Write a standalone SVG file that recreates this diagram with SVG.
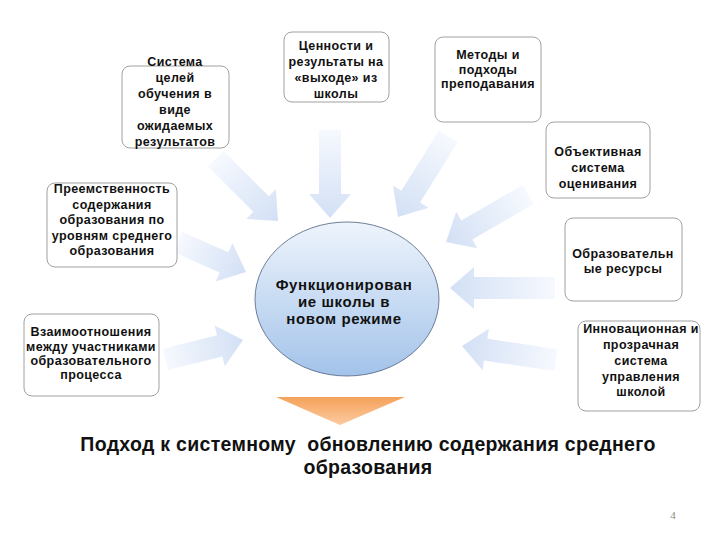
<svg xmlns="http://www.w3.org/2000/svg" width="720" height="540" viewBox="0 0 720 540">
<style>
.box{fill:#ffffff;stroke:#a0a0a0;stroke-width:1}
.bt{font-family:"Liberation Sans",Arial,sans-serif;font-weight:bold;font-size:12.5px;letter-spacing:0.4px;fill:#111;text-anchor:middle}
.ct{font-family:"Liberation Sans",Arial,sans-serif;font-weight:bold;font-size:15px;letter-spacing:0.6px;fill:#111;text-anchor:middle}
.title{font-family:"Liberation Sans",Arial,sans-serif;font-weight:bold;font-size:19.5px;letter-spacing:0.3px;fill:#111;text-anchor:middle;white-space:pre}
.arr{fill:url(#ag);stroke:none}
</style>
<defs>
<linearGradient id="ag" x1="0" y1="0" x2="1" y2="0">
<stop offset="0" stop-color="#f6f9fe"/>
<stop offset="1" stop-color="#d3e0f5"/>
</linearGradient>
<linearGradient id="eg" x1="0" y1="0" x2="0" y2="1">
<stop offset="0" stop-color="#eef4fc"/>
<stop offset="1" stop-color="#a3c3ea"/>
</linearGradient>
<linearGradient id="tg" x1="0" y1="0" x2="0" y2="1">
<stop offset="0" stop-color="#f5a25a"/>
<stop offset="1" stop-color="#fccaa0"/>
</linearGradient>
</defs>
<rect width="720" height="540" fill="#ffffff"/>

<g id="connectors">
<path class="arr" transform="translate(278,221) rotate(45)" d="M0,0 L-24,-21 L-24,-11 L-88,-11 L-88,11 L-24,11 L-24,21 Z"/>
<path class="arr" transform="translate(330,218) rotate(90)" d="M0,0 L-24,-21 L-24,-11 L-88,-11 L-88,11 L-24,11 L-24,21 Z"/>
<path class="arr" transform="translate(398,217) rotate(122)" d="M0,0 L-24,-21 L-24,-11 L-95,-11 L-95,11 L-24,11 L-24,21 Z"/>
<path class="arr" transform="translate(446,242) rotate(150)" d="M0,0 L-24,-21 L-24,-11 L-95,-11 L-95,11 L-24,11 L-24,21 Z"/>
<path class="arr" transform="translate(450,288) rotate(180)" d="M0,0 L-24,-21 L-24,-11 L-105,-11 L-105,11 L-24,11 L-24,21 Z"/>
<path class="arr" transform="translate(462,346) rotate(188.6)" d="M0,0 L-24,-21 L-24,-11 L-95,-11 L-95,11 L-24,11 L-24,21 Z"/>
<path class="arr" transform="translate(246,272) rotate(23.7)" d="M0,0 L-24,-21 L-24,-11 L-75,-11 L-75,11 L-24,11 L-24,21 Z"/>
<path class="arr" transform="translate(243,340) rotate(-14)" d="M0,0 L-24,-21 L-24,-11 L-80,-11 L-80,11 L-24,11 L-24,21 Z"/>
</g>

<g id="n-goals">
<rect class="box" x="122" y="66" width="107" height="82" rx="8"/>
<text class="bt"><tspan x="175" y="66">Система</tspan><tspan x="175" y="82">целей</tspan><tspan x="175" y="98">обучения в</tspan><tspan x="175" y="114">виде</tspan><tspan x="175" y="130">ожидаемых</tspan><tspan x="175" y="146">результатов</tspan></text>
</g>

<g id="n-values">
<rect class="box" x="284" y="32" width="105" height="70" rx="8"/>
<text class="bt"><tspan x="336" y="50">Ценности и</tspan><tspan x="336" y="66">результаты на</tspan><tspan x="336" y="82">«выходе» из</tspan><tspan x="336" y="98">школы</tspan></text>
</g>

<g id="n-methods">
<rect class="box" x="435" y="37" width="106" height="85" rx="8"/>
<text class="bt"><tspan x="488" y="59">Методы и</tspan><tspan x="488" y="74">подходы</tspan><tspan x="488" y="88">преподавания</tspan></text>
</g>

<g id="n-assess">
<rect class="box" x="546" y="122" width="104" height="76" rx="8"/>
<text class="bt"><tspan x="598" y="156">Объективная</tspan><tspan x="598" y="172">система</tspan><tspan x="598" y="188">оценивания</tspan></text>
</g>

<g id="n-resources">
<rect class="box" x="565" y="218" width="117" height="83" rx="8"/>
<text class="bt"><tspan x="623" y="258">Образовательн</tspan><tspan x="623" y="273">ые ресурсы</tspan></text>
</g>

<g id="n-management">
<rect class="box" x="578" y="321" width="122" height="90" rx="8"/>
<text class="bt"><tspan x="641" y="333">Инновационная и</tspan><tspan x="641" y="349">прозрачная</tspan><tspan x="641" y="365">система</tspan><tspan x="641" y="381">управления</tspan><tspan x="641" y="396">школой</tspan></text>
</g>

<g id="n-continuity">
<rect class="box" x="47" y="183" width="130" height="84" rx="8"/>
<text class="bt"><tspan x="112" y="193">Преемственность</tspan><tspan x="112" y="209">содержания</tspan><tspan x="112" y="224">образования по</tspan><tspan x="112" y="240">уровням среднего</tspan><tspan x="112" y="255">образования</tspan></text>
</g>

<g id="n-relations">
<rect class="box" x="24" y="314" width="135" height="82" rx="8"/>
<text class="bt"><tspan x="91" y="336">Взаимоотношения</tspan><tspan x="91" y="351">между участниками</tspan><tspan x="91" y="365">образовательного</tspan><tspan x="91" y="379">процесса</tspan></text>
</g>

<g id="n-center">
<ellipse cx="347" cy="299" rx="92" ry="77" fill="url(#eg)" stroke="#4f5f80" stroke-width="0.8"/>
<text class="ct"><tspan x="344" y="290">Функционирован</tspan><tspan x="344" y="307">ие школы в</tspan><tspan x="344" y="324">новом режиме</tspan></text>
</g>

<g id="n-down">
<polygon points="276,397 405,397 340,425" fill="url(#tg)"/>
</g>

<g id="n-title">
<text class="title"><tspan x="368" y="451">Подход к системному  обновлению содержания среднего</tspan><tspan x="368" y="474">образования</tspan></text>
<text x="673" y="519" font-family="Liberation Serif,serif" font-size="11" fill="#888" text-anchor="middle">4</text>
</g>
</svg>
